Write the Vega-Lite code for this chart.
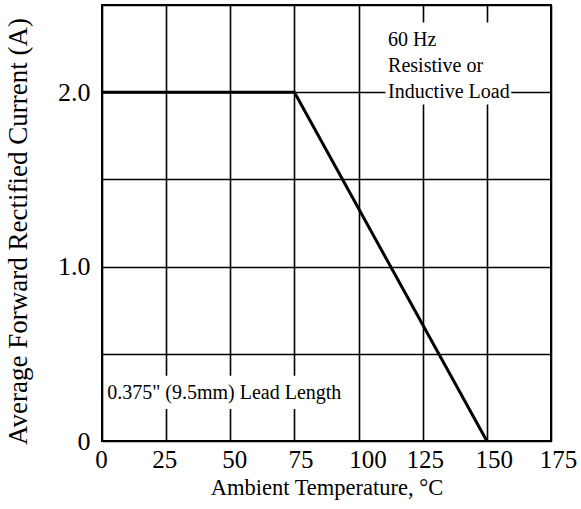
{
  "$schema": "https://vega.github.io/schema/vega-lite/v6.json",
  "width": 449,
  "height": 436,
  "autosize": {"type": "none"},
  "padding": {"left": 102, "top": 5, "right": 30, "bottom": 68},
  "background": "white",
  "config": {
    "font": "Liberation Serif",
    "view": {"stroke": "black", "strokeWidth": 2},
    "axis": {"labelFont": "Liberation Serif", "titleFont": "Liberation Serif", "labelColor": "black", "titleColor": "black", "titleFontWeight": "normal", "gridColor": "black", "gridOpacity": 1, "gridWidth": 1.6, "domain": false, "ticks": false, "zindex": 0}
  },
  "datasets": {
    "curve": [
      {"temp": 0, "current": 2.0},
      {"temp": 75, "current": 2.0},
      {"temp": 150, "current": 0}
    ],
    "boxes": [
      {"x1": 110.5, "x2": 159.5, "y1": 2.4, "y2": 1.93},
      {"x1": 1.2, "x2": 93, "y1": 0.374, "y2": 0.184}
    ],
    "notes": [
      {"temp": 111.5, "current": 2.3, "label": "60 Hz"},
      {"temp": 111.5, "current": 2.153, "label": "Resistive or"},
      {"temp": 111.5, "current": 2.0, "label": "Inductive Load"}
    ],
    "lead": [
      {"temp": 2.0, "current": 0.276, "label": "0.375\" (9.5mm) Lead Length"}
    ]
  },
  "layer": [
    {
      "data": {"name": "curve"},
      "mark": {"type": "line", "color": "black", "strokeWidth": 3},
      "encoding": {
        "x": {"field": "temp", "type": "quantitative", "scale": {"domain": [0, 175], "nice": false},
          "axis": {"values": [0, 25, 50, 75, 100, 125, 150, 175], "title": "Ambient Temperature, °C", "labelFontSize": 25, "titleFontSize": 22.5, "labelPadding": 6, "titlePadding": 4, "labelFlush": false, "labelOverlap": false,
            "labelOffset": {"condition": [
              {"test": "datum.value == 0", "value": -1},
              {"test": "datum.value == 25", "value": -2},
              {"test": "datum.value == 50", "value": 4},
              {"test": "datum.value == 75", "value": 6},
              {"test": "datum.value == 100", "value": 9},
              {"test": "datum.value == 125", "value": 2},
              {"test": "datum.value >= 150", "value": 7}
            ], "value": 0}}},
        "y": {"field": "current", "type": "quantitative", "scale": {"domain": [0, 2.5], "nice": false},
          "axis": {"values": [0, 0.5, 1, 1.5, 2, 2.5], "labelExpr": "datum.value == 0 ? '0' : (datum.value == 1 || datum.value == 2) ? format(datum.value, '.1f') : ''", "title": "Average Forward Rectified Current (A)", "labelFontSize": 26, "titleFontSize": 27, "labelPadding": 12, "titlePadding": 25, "titleY": 226, "labelFlush": false, "labelOverlap": false}}
      }
    },
    {
      "data": {"name": "boxes"},
      "mark": {"type": "rect", "fill": "white", "stroke": null, "opacity": 1},
      "encoding": {
        "x": {"field": "x1", "type": "quantitative"},
        "x2": {"field": "x2"},
        "y": {"field": "y1", "type": "quantitative"},
        "y2": {"field": "y2"}
      }
    },
    {
      "data": {"name": "notes"},
      "mark": {"type": "text", "align": "left", "baseline": "middle", "fontSize": 20, "color": "black", "font": "Liberation Serif"},
      "encoding": {
        "x": {"field": "temp", "type": "quantitative"},
        "y": {"field": "current", "type": "quantitative"},
        "text": {"field": "label"}
      }
    },
    {
      "data": {"name": "lead"},
      "mark": {"type": "text", "align": "left", "baseline": "middle", "fontSize": 20, "color": "black", "font": "Liberation Serif"},
      "encoding": {
        "x": {"field": "temp", "type": "quantitative"},
        "y": {"field": "current", "type": "quantitative"},
        "text": {"field": "label"}
      }
    }
  ]
}
